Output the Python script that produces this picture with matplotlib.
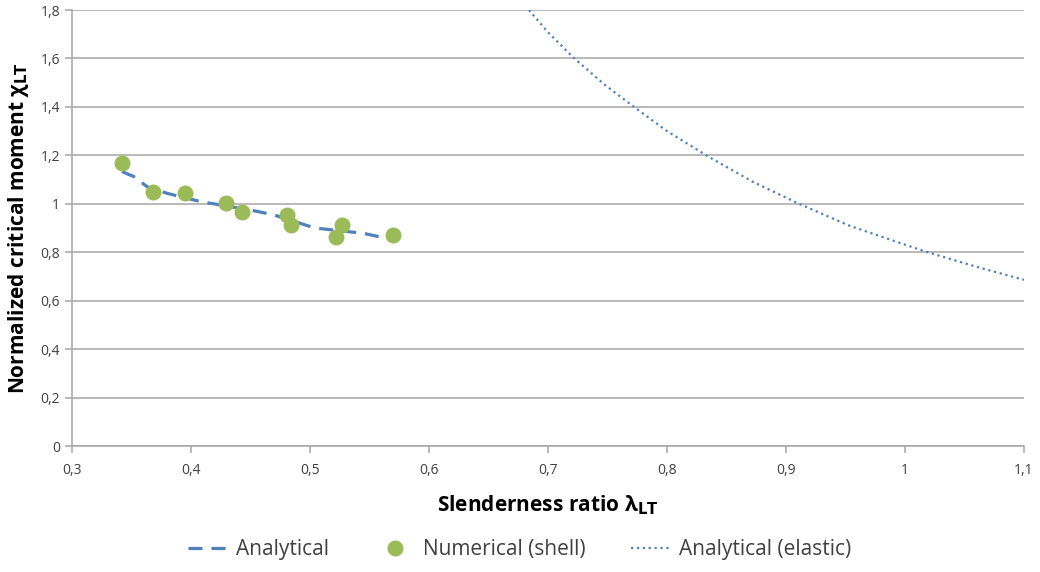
import matplotlib
matplotlib.use("Agg")
import matplotlib.pyplot as plt
from matplotlib.ticker import FuncFormatter, MultipleLocator

plt.rcParams['font.family'] = ['Open Sans', 'DejaVu Sans']

# values
analytical_x = [0.342, 0.352, 0.363, 0.380, 0.408, 0.450, 0.469, 0.504, 0.545, 0.570]
analytical_y = [1.133, 1.112, 1.071, 1.043, 1.009, 0.974, 0.955, 0.900, 0.878, 0.851]

shell_x = [0.342, 0.368, 0.395, 0.429, 0.443, 0.481, 0.484, 0.527, 0.522, 0.570]
shell_y = [1.167, 1.050, 1.043, 1.002, 0.967, 0.954, 0.912, 0.912, 0.864, 0.871]

elastic_x = [0.684, 0.700, 0.721, 0.748, 0.772, 0.800, 0.835, 0.872, 0.910, 0.953, 0.987, 1.017, 1.060, 1.100]
elastic_y = [1.800, 1.708, 1.605, 1.490, 1.401, 1.300, 1.194, 1.091, 1.002, 0.910, 0.853, 0.803, 0.740, 0.686]

blue = '#4F81BD'
green = '#9BBB59'
grid_gray = '#A6A6A6'
text_gray = '#404040'

fig = plt.figure(figsize=(10.4, 5.72), dpi=100)
ax = fig.add_axes([72 / 1040, 1 - 446 / 572, (1024 - 72) / 1040, (446 - 10) / 572])

ax.plot(analytical_x, analytical_y, '--', color=blue, lw=2.3, dashes=(4.4, 2.8),
        label='Analytical', zorder=3)
ax.plot(shell_x, shell_y, 'o', color=green, markersize=11.5, markeredgewidth=0,
        label='Numerical (shell)', zorder=4)
ax.plot(elastic_x, elastic_y, ':', color=blue, lw=1.6, label='Analytical (elastic)', zorder=3)

ax.set_xlim(0.3, 1.1)
ax.set_ylim(0, 1.8)
ax.xaxis.set_major_locator(MultipleLocator(0.1))
ax.yaxis.set_major_locator(MultipleLocator(0.2))
fmt = FuncFormatter(lambda v, p: ('%g' % round(v, 2)).replace('.', ','))
ax.xaxis.set_major_formatter(fmt)
ax.yaxis.set_major_formatter(fmt)

ax.grid(axis='y', color=grid_gray, lw=1.1)
ax.set_axisbelow(True)
for side in ['top', 'right']:
    ax.spines[side].set_visible(False)
for side in ['left', 'bottom']:
    ax.spines[side].set_color(grid_gray)
    ax.spines[side].set_linewidth(1.1)
ax.tick_params(axis='both', colors=grid_gray, labelcolor=text_gray, labelsize=10,
               length=5, width=1.1, direction='out')
ax.tick_params(axis='x', pad=7)

ax.set_xlabel(r'Slenderness ratio λ$_{\mathbf{LT}}$', fontsize=15, fontweight='bold',
              color='black', labelpad=11)
ax.set_ylabel(r'Normalized critical moment χ$_{\mathbf{LT}}$', fontsize=15, fontweight='bold',
              color='black', labelpad=7)

fig.legend(loc='center', bbox_to_anchor=(0.5, 1 - 550 / 572), ncol=3, frameon=False,
           fontsize=15, handlelength=1.9, handletextpad=0.4, columnspacing=2.2,
           labelcolor=text_gray)

fig.savefig('out.png', dpi=100)
